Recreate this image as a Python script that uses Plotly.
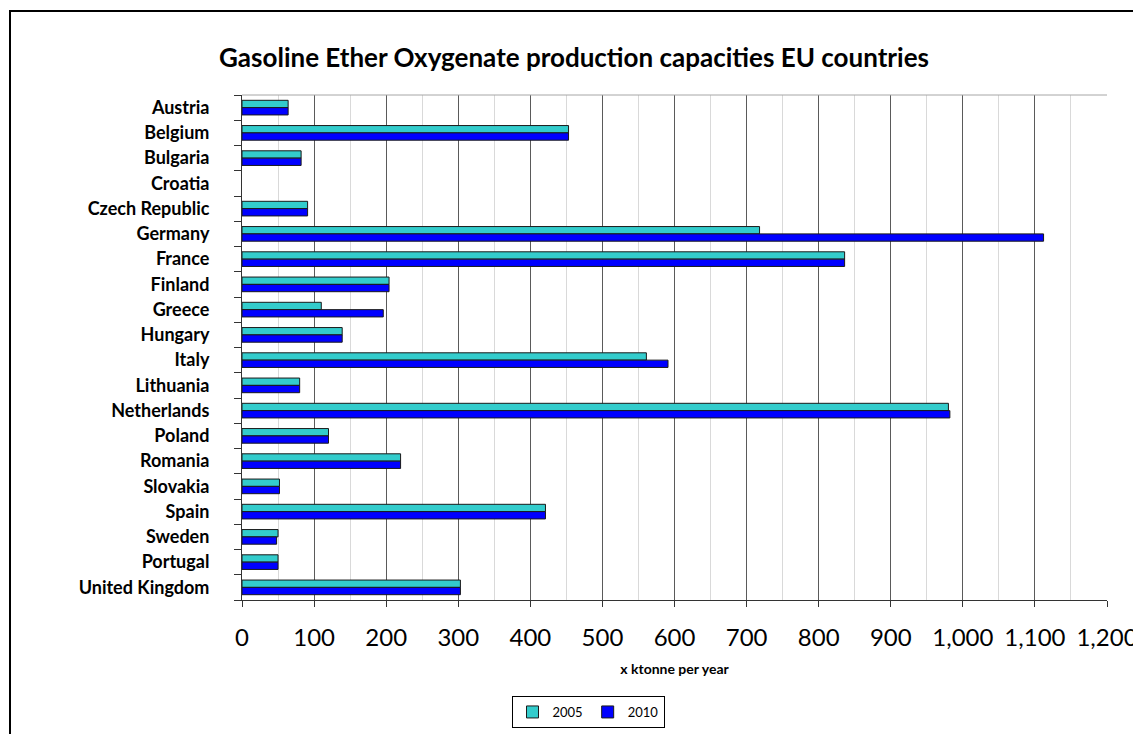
import plotly.graph_objects as go

countries = ["Austria", "Belgium", "Bulgaria", "Croatia", "Czech Republic", "Germany",
             "France", "Finland", "Greece", "Hungary", "Italy", "Lithuania",
             "Netherlands", "Poland", "Romania", "Slovakia", "Spain", "Sweden",
             "Portugal", "United Kingdom"]
cap_2005 = [64, 453, 82, 0, 91, 718, 836, 204, 110, 139, 561, 80,
            980, 120, 220, 52, 421, 50, 50, 303]
cap_2010 = [64, 453, 82, 0, 91, 1112, 836, 204, 196, 139, 591, 80,
            982, 120, 220, 52, 421, 48, 50, 303]
x_ticks = list(range(0, 1201, 100))
x_ticklabels = [f"{v:,}" for v in x_ticks]

# page body has an 8px margin; work in screen pixels and convert
OFF = 8
W, H = 1141 - OFF, 734 - OFF
PL, PR, PT, PB = 242, 1107, 95, 600          # plot area in screen pixels
L, R, T, B = PL - OFF, W - (PR - OFF), PT - OFF, H - (PB - OFF)
pw, ph = PR - PL, PB - PT

def px_x(p):
    return (p - PL) / pw

def px_y(p):
    return (PB - p) / ph

def edge_widths(vals):
    return [0 if v == 0 else 1 for v in vals]

fig = go.Figure()
fig.add_trace(go.Bar(y=countries, x=cap_2005, name="2005", orientation="h",
                     marker=dict(color="#33CCCC",
                                 line=dict(color="#1a1a1a", width=edge_widths(cap_2005)))))
fig.add_trace(go.Bar(y=countries, x=cap_2010, name="2010", orientation="h",
                     marker=dict(color="#0000FF",
                                 line=dict(color="#1a1a1a", width=edge_widths(cap_2010)))))

fig.update_layout(
    width=W, height=H,
    margin=dict(l=L, r=R, t=T, b=B, autoexpand=False),
    paper_bgcolor="white", plot_bgcolor="white",
    barmode="group", bargap=0.42, bargroupgap=0,
    title=dict(text="<b>Gasoline Ether Oxygenate production capacities EU countries</b>",
               font=dict(family="Lato", size=26, color="black"),
               x=px_x(574), xref="paper", xanchor="center",
               y=1 - (58 - OFF) / H, yref="container", yanchor="middle"),
    font=dict(family="Lato", color="black"),
    showlegend=True,
    legend=dict(orientation="h", x=px_x(588), xanchor="center", y=px_y(696), yanchor="top",
                bordercolor="black", borderwidth=1, font=dict(size=13),
                itemwidth=30, tracegroupgap=0, traceorder="normal"),
    xaxis=dict(range=[0, 1200], tickvals=x_ticks, ticktext=x_ticklabels,
               showgrid=True, gridcolor="#5a5a5a", gridwidth=1,
               minor=dict(dtick=50, tick0=0, showgrid=True, gridcolor="#d9d9d9", gridwidth=1),
               showline=True, linecolor="#333333", linewidth=1,
               ticks="outside", ticklen=6, tickcolor="#333333",
               tickfont=dict(family="Lato", size=24, color="black"),
               ticklabeloverflow="allow", ticklabelstandoff=10,
               title=dict(text="<b>x ktonne per year</b>", font=dict(family="Lato", size=14),
                          standoff=14),
               zeroline=False, fixedrange=True, automargin=False),
    yaxis=dict(autorange="reversed", type="category",
               showgrid=False, showline=True, linecolor="#333333", linewidth=1,
               ticks="outside", ticklen=7, tickcolor="#333333", tickson="boundaries",
               tickfont=dict(family="Lato", size=18, color="black"),
               ticklabelstandoff=28, automargin=False),
    shapes=[
        dict(type="line", xref="paper", yref="paper", x0=0, x1=1, y0=1, y1=1,
             line=dict(color="#a6a6a6", width=1)),
        dict(type="rect", xref="paper", yref="paper",
             x0=px_x(10), x1=px_x(1160), y0=px_y(760), y1=px_y(11),
             line=dict(color="black", width=2), fillcolor="rgba(0,0,0,0)"),
    ],
)
# bold y labels
fig.update_yaxes(ticktext=[f"<b>{c}</b>" for c in countries], tickvals=countries)

fig.write_html("out.html")
